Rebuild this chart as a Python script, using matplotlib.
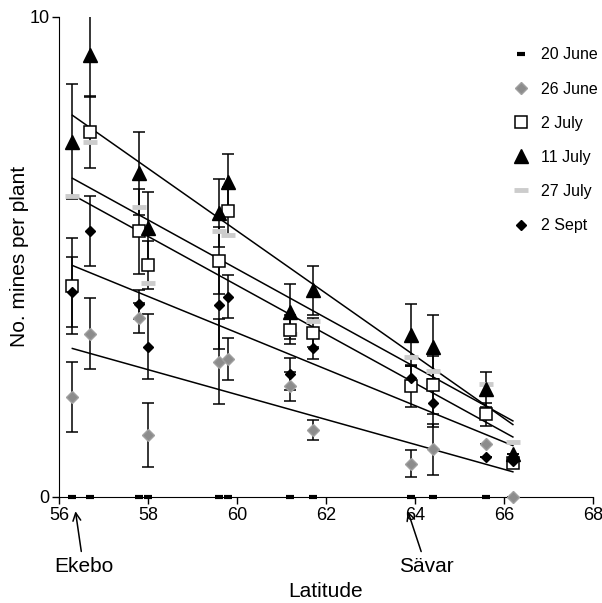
import matplotlib
matplotlib.use("Agg")
import matplotlib.pyplot as plt
import numpy as np

plt.rcParams['font.family'] = ['Liberation Sans', 'DejaVu Sans']

# site latitudes (same sites on every date)
lat = [56.3, 56.7, 57.8, 58.0, 59.6, 59.8, 61.2, 61.7, 63.9, 64.4, 65.6, 66.2]

# mean no. mines per plant
jun20 = [0, 0, 0, 0, 0, 0, 0, 0, 0, 0, 0, 0]
jun26 = [2.09, 3.40, 3.72, 1.29, 2.82, 2.87, 2.30, 1.40, 0.69, 0.99, 1.10, 0.0]
jul02 = [4.40, 7.60, 5.53, 4.84, 4.92, 5.95, 3.48, 3.42, 2.30, 2.33, 1.72, 0.70]
jul11 = [7.40, 9.21, 6.74, 5.60, 5.91, 6.57, 3.86, 4.30, 3.38, 3.12, 2.24, 0.89]
jul27 = [6.26, 7.39, 6.04, 4.46, 5.54, 5.46, 3.40, 3.67, 2.92, 2.63, 2.35, 1.15]
sep02 = [4.26, 5.54, 4.01, 3.13, 4.00, 4.17, 2.56, 3.10, 2.47, 1.96, 0.83, 0.75]

# error bars (SE)
jun26_err = [0.73, 0.74, 0.31, 0.67, 0.89, 0.43, 0.31, 0.21, 0.28, 0.53, 0, 0]
jul02_err = [1.00, 0.75, 0.89, 0.50, 0.70, 0.50, 0.30, 0.30, 0.42, 0.60, 0.24, 0]
jul11_err = [1.20, 0.87, 0.86, 0.75, 0.71, 0.58, 0.58, 0.51, 0.63, 0.66, 0.37, 0]
sep02_err = [0.73, 0.73, 0.30, 0.67, 0.92, 0.45, 0.33, 0.23, 0.25, 0.50, 0, 0]

fig = plt.figure(figsize=(6.02, 6.03), dpi=100)
ax = fig.add_axes([0.098, 0.176, 0.887, 0.796])

eb = dict(fmt='none', ecolor='black', elinewidth=1.1, capsize=4, capthick=1.1, zorder=2)
ax.errorbar(lat, jun26, yerr=jun26_err, **eb)
ax.errorbar(lat, jul02, yerr=jul02_err, **eb)
ax.errorbar(lat, jul11, yerr=jul11_err, **eb)
ax.errorbar(lat, sep02, yerr=sep02_err, **eb)

# linear regressions
xs = np.array([min(lat), max(lat)])
for ys in [jun26, jul02, jul11, jul27, sep02]:
    m, b = np.polyfit(lat, ys, 1)
    ax.plot(xs, m * xs + b, color='black', lw=1.1, zorder=1)

ax.plot(lat, jun20, ls='none', marker='_', ms=6, mew=3, color='black',
        label='20 June', zorder=3, clip_on=False)
ax.plot(lat, jun26, ls='none', marker='D', ms=6, color='#8c8c8c', mec='#a0a0a0',
        label='26 June', zorder=4, clip_on=False)
ax.plot(lat, jul02, ls='none', marker='s', ms=9, mfc='white', mec='black', mew=1.1,
        label='2 July', zorder=4)
ax.plot(lat, jul11, ls='none', marker='^', ms=10, color='black',
        label='11 July', zorder=4)
ax.plot(lat, jul27, ls='none', marker='_', ms=10, mew=3.5, color='#cccccc',
        label='27 July', zorder=3)
ax.plot(lat, sep02, ls='none', marker='D', ms=5, color='black',
        label='2 Sept', zorder=5)

ax.set_xlim(56, 68)
ax.set_ylim(0, 10)
ax.set_xticks(range(56, 69, 2))
ax.set_yticks([0, 10])
ax.spines['top'].set_visible(False)
ax.spines['right'].set_visible(False)
ax.tick_params(direction='out', length=5, width=1, labelsize=13, pad=2)
ax.set_xlabel('Latitude', fontsize=15, labelpad=42)
ax.set_ylabel('No. mines per plant', fontsize=15, labelpad=0)

leg = ax.legend(loc='upper left', bbox_to_anchor=(499 / 602, 1 - 33 / 603),
                bbox_transform=fig.transFigure, frameon=False,
                fontsize=11.5, handlelength=1.0, labelspacing=1.2, handletextpad=0.7)

arrow = dict(arrowstyle='->', color='black', lw=1.1, shrinkA=2, shrinkB=0,
             mutation_scale=14)
ax.annotate('Ekebo', xy=(56.37, -0.3), xytext=(56.55, -1.45), ha='center', va='center',
            fontsize=15, arrowprops=arrow, annotation_clip=False)
ax.annotate('Sävar', xy=(63.84, -0.3), xytext=(64.25, -1.45), ha='center', va='center',
            fontsize=15, arrowprops=arrow, annotation_clip=False)

plt.savefig('out.png', dpi=100)
